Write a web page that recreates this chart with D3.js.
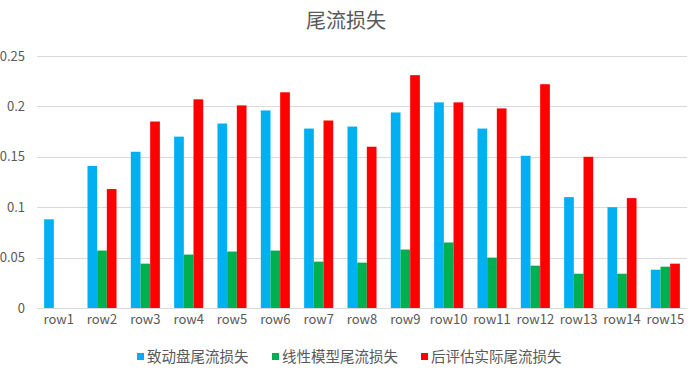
<!DOCTYPE html>
<html>
<head>
<meta charset="utf-8">
<script src="https://cdn.jsdelivr.net/npm/d3@7"></script>
<style>
  body { margin: 0; background: #fff; }
  text { font-family: "Noto Sans CJK SC", "Open Sans", sans-serif; fill: #595959; }
</style>
</head>
<body>
<svg id="chart" width="693" height="380"></svg>
<script>
// categories and series
var categories = ["row1","row2","row3","row4","row5","row6","row7","row8","row9","row10","row11","row12","row13","row14","row15"];
var seriesNames = ["致动盘尾流损失", "线性模型尾流损失", "后评估实际尾流损失"];
var actuatorDisk = [0.088, 0.141, 0.155, 0.170, 0.183, 0.196, 0.178, 0.180, 0.194, 0.204, 0.178, 0.151, 0.110, 0.100, 0.038];
var linearModel  = [null, 0.057, 0.044, 0.053, 0.056, 0.057, 0.046, 0.045, 0.058, 0.065, 0.050, 0.042, 0.034, 0.034, 0.041];
var actualLoss   = [null, 0.118, 0.185, 0.207, 0.201, 0.214, 0.186, 0.160, 0.231, 0.204, 0.198, 0.222, 0.150, 0.109, 0.044];
var yTicks = [0, 0.05, 0.1, 0.15, 0.2, 0.25];
var colors = ["#00B0F0", "#00B050", "#FF0000"];

var svg = d3.select("#chart");
var margin = {left: 37, right: 6, top: 56, bottom: 72};
var width = 693, height = 380;

var x = d3.scaleBand()
    .domain(categories)
    .range([margin.left, width - margin.right])
    .paddingInner(0.33)
    .paddingOuter(0.165);
var xs = d3.scaleBand()
    .domain([0, 1, 2])
    .range([0, x.bandwidth()]);
var y = d3.scaleLinear()
    .domain([0, 0.25])
    .range([height - margin.bottom, margin.top]);

// title
svg.append("text")
   .attr("x", 346)
   .attr("y", 28)
   .attr("text-anchor", "middle")
   .style("font-size", "20px")
   .text("尾流损失");

// gridlines
svg.append("g").selectAll("line")
   .data(yTicks)
   .enter().append("line")
   .attr("x1", margin.left)
   .attr("x2", width - margin.right)
   .attr("y1", function(d) { return Math.round(y(d)) + 0.5; })
   .attr("y2", function(d) { return Math.round(y(d)) + 0.5; })
   .attr("stroke", "#d9d9d9")
   .attr("stroke-width", 1);

// y labels (kept fully inside the page)
var yAxis = d3.axisLeft(y).tickValues(yTicks).tickSize(0).tickPadding(0)
    .tickFormat(function(d) { return d === 0 ? "0" : String(d); });
var yg = svg.append("g")
   .attr("transform", "translate(25,0)")
   .call(yAxis);
yg.select(".domain").remove();
yg.selectAll("text").style("font-size", "13px").style("fill", "#595959");

// bars
var all = [actuatorDisk, linearModel, actualLoss];
for (var s = 0; s < all.length; s++) {
    var vals = all[s];
    svg.append("g").selectAll("rect")
       .data(categories.map(function(c, i) { return {c: c, v: vals[i]}; })
                       .filter(function(d) { return d.v !== null; }))
       .enter().append("rect")
       .attr("x", function(d) { return x(d.c) + xs(s); })
       .attr("width", xs.bandwidth())
       .attr("y", function(d) { return y(d.v); })
       .attr("height", function(d) { return y(0) - y(d.v); })
       .attr("fill", colors[s]);
}

// x labels
var xAxis = d3.axisBottom(x).tickSize(0).tickPadding(0);
var xg = svg.append("g")
   .attr("transform", "translate(0," + (y(0) + 7) + ")")
   .call(xAxis);
xg.select(".domain").remove();
xg.selectAll("text").style("font-size", "13px").style("fill", "#595959");

// legend
var legendX = [137, 272, 421];
var legend = svg.append("g");
for (var k = 0; k < seriesNames.length; k++) {
    legend.append("rect")
       .attr("x", legendX[k])
       .attr("y", 353)
       .attr("width", 7)
       .attr("height", 7)
       .attr("fill", colors[k]);
    legend.append("text")
       .attr("x", legendX[k] + 10)
       .attr("y", 362)
       .style("font-size", "14.5px")
       .text(seriesNames[k]);
}
</script>
</body>
</html>
